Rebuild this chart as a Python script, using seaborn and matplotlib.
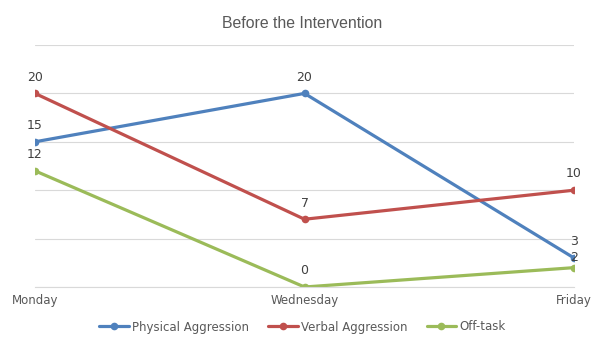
import matplotlib
matplotlib.use("Agg")
import matplotlib.pyplot as plt
import seaborn as sns
import pandas as pd

days = ["Monday", "Wednesday", "Friday"]
series_names = ["Physical Aggression", "Verbal Aggression", "Off-task"]
physical = [15, 20, 3]
verbal = [20, 7, 10]
offtask = [12, 0, 2]
colors = ["#4F81BD", "#C0504D", "#9BBB59"]

sns.set_theme(style="white")
plt.rcParams['font.family'] = ['DejaVu Sans']

rows = []
for name, vals in zip(series_names, [physical, verbal, offtask]):
    for i, (d, v) in enumerate(zip(days, vals)):
        rows.append({"day": d, "pos": i, "value": v, "series": name})
df = pd.DataFrame(rows)

fig = plt.figure(figsize=(6.05, 3.4), dpi=100)
ax = fig.add_axes([35/605, 1-287/340, (574-35)/605, (287-45)/340])

sns.lineplot(data=df, x="pos", y="value", hue="series", hue_order=series_names,
             palette=colors, marker="o", markersize=5.5, markeredgewidth=0,
             linewidth=2.3, ax=ax, legend=True)

ax.set_xlim(0, 2)
ax.set_ylim(0, 25)
ax.set_yticks([0, 5, 10, 15, 20, 25])
ax.yaxis.grid(True, color="#D9D9D9", linewidth=0.8)
ax.set_axisbelow(True)
ax.tick_params(axis="y", left=False, labelleft=False)
ax.set_xticks([0, 1, 2])
ax.set_xticklabels(days, fontsize=8.5, color="#595959")
ax.tick_params(axis="x", length=0, pad=5)
for s in ["top", "right", "left"]:
    ax.spines[s].set_visible(False)
ax.spines["bottom"].set_color("#D9D9D9")
ax.spines["bottom"].set_linewidth(0.8)
ax.set_xlabel("")
ax.set_ylabel("")

for _, r in df.iterrows():
    off = 7
    if r["series"] == "Off-task" and r["pos"] == 2:
        off = 2.5
    ax.annotate(str(r["value"]), (r["pos"], r["value"]), xytext=(0, off),
                textcoords="offset points", ha="center", va="bottom",
                fontsize=9, color="#404040", clip_on=False)

fig.text(0.5, 1-24/340, "Before the Intervention", ha="center", va="center",
         fontsize=11.4, color="#595959", family=["Liberation Sans"])

handles, labels = ax.get_legend_handles_labels()
ax.legend(handles, labels, loc="center", bbox_to_anchor=(0.5, 13/340),
          bbox_transform=fig.transFigure, ncol=3, frameon=False, fontsize=8.5,
          labelcolor="#595959", handlelength=2.5, columnspacing=1.6, handletextpad=0.3)

fig.savefig("out.png", dpi=100)
